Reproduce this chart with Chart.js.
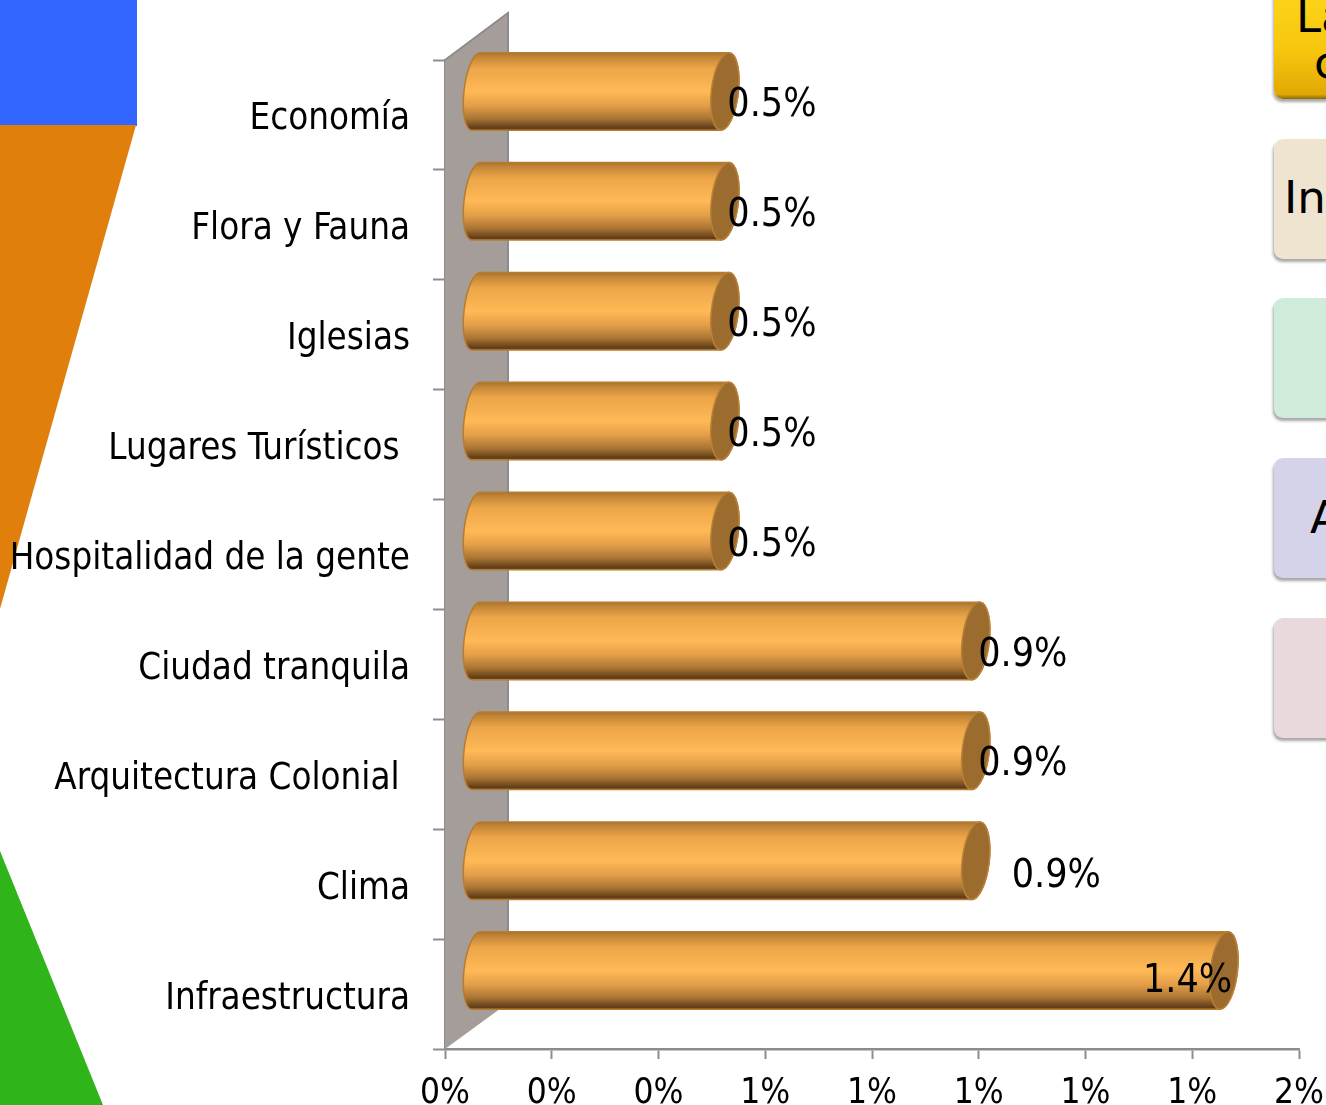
<!DOCTYPE html>
<html lang="es">
<head>
<meta charset="utf-8">
<title>Chart</title>
<script src="https://cdn.jsdelivr.net/npm/chart.js@4"></script>
<style>
html,body{margin:0;padding:0;background:#fff;overflow:hidden;width:1326px;height:1105px}
#stage{position:relative;width:1326px;height:1105px;overflow:hidden}
canvas{position:absolute;left:0;top:0;z-index:2}
.deco{position:absolute;z-index:1}
.box{position:absolute;z-index:1;left:1274px;width:200px;height:120px;border-radius:9px;box-shadow:-1px 3px 3px rgba(0,0,0,.35);font-family:"DejaVu Sans";font-size:45px;color:#000}
.box span{position:absolute;line-height:1;white-space:pre}
</style>
</head>
<body>
<div id="stage">
  <div class="deco" style="left:0;top:0;width:137px;height:126px;background:#3366ff"></div>
  <div class="deco" style="left:0;top:125px;width:136px;height:484px;background:#e07f0c;clip-path:polygon(0 0,100% 0,0 100%)"></div>
  <div class="deco" style="left:0;top:851px;width:103px;height:254px;background:#2fb41a;clip-path:polygon(0 0,100% 100%,0 100%)"></div>
  <div class="box" style="top:-21px;background:linear-gradient(#ffd81e,#f6c60e 60%,#e2a804 96%,#8a6a08);"><span style="left:22px;top:15px">La</span><span style="left:40px;top:61px">c</span></div>
  <div class="box" style="top:139px;background:#efe4cf"><span style="left:10px;top:36px">In</span></div>
  <div class="box" style="top:298px;background:#cfebd9"></div>
  <div class="box" style="top:458px;background:#d4d3e9"><span style="left:36px;top:37px">A</span></div>
  <div class="box" style="top:618px;background:#e9d9dd"></div>
  <canvas id="c" width="1326" height="1105"></canvas>
</div>
<script>
const categories = ['Economía','Flora y Fauna','Iglesias','Lugares Turísticos ','Hospitalidad de la gente','Ciudad tranquila','Arquitectura Colonial ','Clima','Infraestructura'];
const values = [0.47,0.47,0.47,0.47,0.47,0.94,0.94,0.94,1.405];
const valueLabels = ['0.5%','0.5%','0.5%','0.5%','0.5%','0.9%','0.9%','0.9%','1.4%'];

const FONT = '"DejaVu Sans Condensed","DejaVu Sans",sans-serif';
const AXIS = '#8c8c8c';
const DEPTH_X = 29, DEPTH_Y = -23.5, RX = 13.5, RX_BASE = 12, BASE_X = 31, TILT = 0.115;
/* per-row nudges of the value labels, as the source chart placed them */
const labelNudge = i => i === 7 ? {x:65, y:-7} : i === 8 ? {x:-52, y:-12} : {x:31.5, y:-9};

function cylinders(chart){
  const ctx = chart.ctx, meta = chart.getDatasetMeta(0), zero = chart.scales.x.getPixelForValue(0) + BASE_X;
  meta.data.forEach((el,i)=>{
    const cx = el.x + DEPTH_X, cy = el.y + DEPTH_Y, ry = el.height/2;
    const g = ctx.createLinearGradient(0,cy-ry,0,cy+ry);
    g.addColorStop(0,'#a66e28'); g.addColorStop(.05,'#c08436'); g.addColorStop(.2,'#eca548');
    g.addColorStop(.5,'#ffb956'); g.addColorStop(.68,'#e39e48'); g.addColorStop(.85,'#a97434');
    g.addColorStop(.97,'#5f3d18'); g.addColorStop(1,'#7a4f20');
    ctx.save();
    ctx.beginPath();
    ctx.ellipse(zero,cy,RX_BASE,ry,TILT,Math.PI/2,Math.PI*1.5);
    ctx.ellipse(cx,cy,RX,ry,TILT,-Math.PI/2,Math.PI/2);
    ctx.closePath();
    ctx.fillStyle = g; ctx.fill();
    ctx.lineWidth = 1.5; ctx.strokeStyle = '#b67c30'; ctx.stroke();
    ctx.beginPath();
    ctx.ellipse(cx,cy,RX,ry,TILT,0,Math.PI*2);
    ctx.fillStyle = '#9c6c2e'; ctx.fill();
    ctx.lineWidth = 1.5; ctx.strokeStyle = '#b98038'; ctx.stroke();
    ctx.restore();
  });
}
const depth3d = {
  id:'depth3d',
  beforeDatasetsDraw(chart){
    const ctx = chart.ctx, {left,top,bottom} = chart.chartArea;
    const dx = 63, dyTop = 47, dyBot = 46;
    ctx.save();
    ctx.beginPath();
    ctx.moveTo(left,top); ctx.lineTo(left+dx,top-dyTop); ctx.lineTo(left+dx,bottom-dyBot); ctx.lineTo(left,bottom); ctx.closePath();
    ctx.fillStyle = '#a59d99'; ctx.fill();
    ctx.beginPath();
    ctx.moveTo(left,top); ctx.lineTo(left+dx,top-dyTop); ctx.lineTo(left+dx,bottom-dyBot);
    ctx.strokeStyle = AXIS; ctx.lineWidth = 2; ctx.stroke();
    ctx.restore();
    cylinders(chart);
    return false;
  },
  afterDraw(chart){
    const ctx = chart.ctx, meta = chart.getDatasetMeta(0);
    ctx.save();
    ctx.font = '39px '+FONT; ctx.fillStyle = '#000'; ctx.textAlign = 'left'; ctx.textBaseline = 'middle';
    meta.data.forEach((el,i)=>{
      const n = labelNudge(i);
      ctx.fillText(valueLabels[i], el.x + n.x, el.y + n.y);
    });
    ctx.restore();
  }
};
const fixY = s => { s.width = 445; s.paddingTop = 0; s.paddingBottom = 0; };
const fixX = s => { s.height = 56; s.paddingLeft = 0; s.paddingRight = 0; };

new Chart(document.getElementById('c'),{
  type:'bar',
  data:{labels:categories,datasets:[{data:values,backgroundColor:'#ffb956',borderColor:'#b67c30',barThickness:78}]},
  plugins:[depth3d],
  options:{
    indexAxis:'y',responsive:false,animation:false,
    layout:{padding:{top:60,right:27,left:0,bottom:0}},
    plugins:{legend:{display:false},tooltip:{enabled:false}},
    scales:{
      x:{min:0,max:1.6,afterFit:fixX,
        border:{color:AXIS,width:2.5},
        grid:{drawOnChartArea:false,drawTicks:true,tickLength:10,tickColor:AXIS,tickWidth:2},
        ticks:{stepSize:0.2,autoSkip:false,maxRotation:0,minRotation:0,padding:14,color:'#000',font:{family:FONT,size:35},
          callback:v=>Number(v).toFixed(0)+'%'}},
      y:{afterFit:fixY,
        border:{color:AXIS,width:2.5},
        grid:{offset:true,drawOnChartArea:false,drawTicks:true,tickLength:12,tickColor:AXIS,tickWidth:2},
        ticks:{autoSkip:false,padding:23,labelOffset:5,color:'#000',font:{family:FONT,size:36.4}}}
    }
  }
});
</script>
</body>
</html>
